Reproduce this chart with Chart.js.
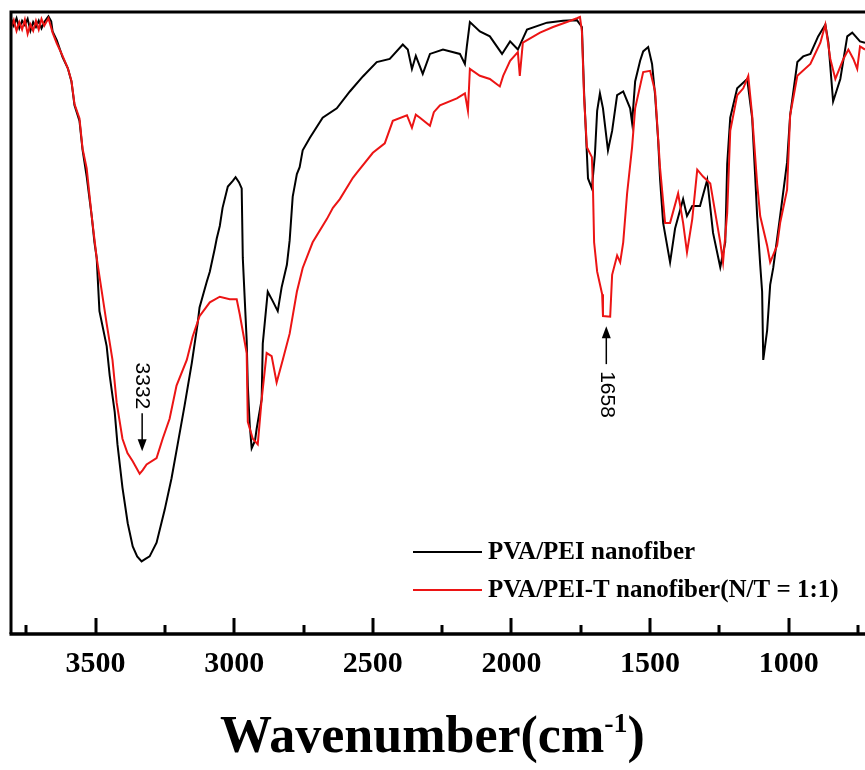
<!DOCTYPE html>
<html>
<head>
<meta charset="utf-8">
<script src="https://cdn.jsdelivr.net/npm/chart.js@4.4.1/dist/chart.umd.min.js"></script>
<style>
  html, body { margin: 0; padding: 0; background: #fff; }
</style>
</head>
<body>
<canvas id="ftir" width="865" height="770"></canvas>
<script>
// FTIR spectra, wavenumber (cm-1) vs transmittance (a.u., 0-100)
const pvaPeiWn = [
  3805, 3795, 3785, 3775, 3765, 3755, 3745, 3735, 3725, 3715,
  3705, 3695, 3685, 3670, 3660, 3655, 3640, 3619, 3600, 3587,
  3576, 3558, 3547, 3532, 3514, 3504, 3496, 3486, 3460, 3449,
  3431, 3421, 3403, 3384, 3366, 3350, 3334, 3320, 3305, 3280,
  3251, 3226, 3204, 3179, 3153, 3132, 3125, 3099, 3088, 3070,
  3063, 3052, 3042, 3023, 3005, 2995, 2983, 2973, 2969, 2955,
  2951, 2944, 2937, 2925, 2919, 2901, 2897, 2879, 2861, 2843,
  2829, 2810, 2800, 2789, 2774, 2764, 2753, 2727, 2681, 2630,
  2583, 2536, 2486, 2439, 2392, 2374, 2359, 2345, 2320, 2294,
  2247, 2186, 2168, 2161, 2150, 2114, 2078, 2034, 2005, 1977,
  1944, 1872, 1814, 1764, 1746, 1738, 1728, 1724, 1710, 1699,
  1691, 1681, 1670, 1652, 1637, 1619, 1597, 1572, 1565, 1554,
  1536, 1525, 1507, 1493, 1482, 1471, 1464, 1453, 1428, 1410,
  1381, 1367, 1348, 1320, 1294, 1273, 1247, 1229, 1222, 1211,
  1186, 1150, 1132, 1121, 1114, 1103, 1096, 1092, 1078, 1067,
  1056, 1031, 1006, 995, 969, 948, 922, 894, 868, 857,
  840, 814, 789, 771, 743, 725
];
const pvaPeiT = [
  98.9, 97.8, 99.0, 97.4, 98.6, 97.9, 98.9, 97.0, 98.4, 97.6,
  98.6, 97.4, 98.4, 99.3, 98.5, 96.9, 95.5, 92.8, 91.0, 88.9,
  85.1, 82.6, 78.0, 73.7, 67.4, 63.2, 60.7, 52.2, 46.6, 41.9,
  36.1, 30.9, 24.0, 18.3, 14.6, 13.0, 12.2, 12.6, 13.0, 15.2,
  20.4, 25.5, 30.9, 37.1, 43.9, 50.2, 52.8, 56.9, 58.5, 62.2,
  63.8, 65.8, 68.7, 72.1, 73.0, 73.6, 72.8, 71.8, 60.7, 47.5,
  40.3, 34.0, 30.3, 31.5, 33.4, 38.1, 47.0, 55.3, 53.8, 52.2,
  56.0, 59.6, 63.5, 70.5, 74.1, 75.2, 77.9, 79.9, 83.1, 84.6,
  87.3, 89.7, 92.0, 92.5, 94.8, 94.0, 90.9, 93.0, 90.1, 93.3,
  94.0, 93.3, 91.7, 94.5, 98.4, 96.9, 96.1, 93.3, 95.3, 94.0,
  97.2, 98.3, 98.6, 98.7, 97.6, 87.0, 77.3, 73.4, 71.8, 77.3,
  84.2, 87.0, 84.6, 77.9, 81.0, 86.7, 87.3, 84.6, 82.3, 88.9,
  92.2, 93.7, 94.4, 91.7, 86.7, 79.5, 73.2, 66.3, 60.0, 65.4,
  70.1, 67.4, 69.0, 69.0, 73.2, 64.7, 59.2, 63.2, 75.7, 83.1,
  87.8, 89.3, 83.1, 73.7, 67.4, 59.6, 55.3, 44.4, 49.1, 56.4,
  59.1, 67.4, 76.0, 83.5, 92.0, 92.9, 93.3, 96.1, 98.0, 95.1,
  85.7, 89.3, 96.1, 96.7, 95.3, 95.1
];
const pvaPeiTWn = [
  3805, 3795, 3785, 3775, 3765, 3755, 3745, 3735, 3725, 3715,
  3705, 3695, 3685, 3670, 3660, 3655, 3640, 3619, 3600, 3587,
  3576, 3558, 3547, 3532, 3514, 3496, 3460, 3439, 3424, 3403,
  3385, 3366, 3341, 3330, 3316, 3280, 3258, 3233, 3208, 3171,
  3150, 3125, 3088, 3052, 3016, 2991, 2980, 2955, 2951, 2933,
  2915, 2901, 2883, 2865, 2847, 2825, 2800, 2774, 2753, 2717,
  2666, 2644, 2619, 2572, 2558, 2500, 2457, 2428, 2377, 2359,
  2345, 2330, 2294, 2280, 2258, 2197, 2168, 2157, 2150, 2114,
  2078, 2042, 2030, 2005, 1977, 1970, 1959, 1897, 1850, 1800,
  1764, 1753, 1746, 1738, 1728, 1710, 1706, 1702, 1691, 1673,
  1670, 1644, 1637, 1619, 1608, 1597, 1583, 1565, 1554, 1525,
  1500, 1482, 1464, 1446, 1428, 1399, 1381, 1367, 1348, 1330,
  1309, 1283, 1265, 1247, 1237, 1222, 1211, 1186, 1164, 1146,
  1132, 1114, 1103, 1078, 1067, 1042, 1031, 1006, 995, 969,
  922, 886, 868, 850, 832, 803, 785, 767, 753, 743,
  725
];
const pvaPeiTT = [
  97.5, 98.7, 97.0, 98.4, 97.2, 98.8, 96.5, 98.0, 97.0, 98.6,
  97.2, 98.9, 97.8, 99.0, 97.5, 96.7, 95.0, 93.0, 91.0, 89.0,
  85.3, 83.0, 78.2, 75.0, 67.4, 60.7, 50.2, 44.4, 37.6, 31.8,
  29.5, 28.2, 26.2, 26.8, 27.7, 28.7, 31.8, 35.0, 40.3, 44.4,
  48.1, 51.4, 53.6, 54.5, 54.1, 54.1, 51.7, 45.5, 34.5, 31.8,
  30.9, 38.1, 45.5, 45.0, 40.8, 44.4, 48.6, 55.3, 59.1, 63.2,
  66.9, 68.7, 70.1, 73.5, 74.3, 77.5, 79.0, 82.6, 83.5, 81.5,
  83.6, 83.1, 81.8, 84.0, 85.1, 86.2, 87.0, 84.2, 90.9, 89.8,
  89.3, 88.1, 89.8, 92.2, 93.6, 89.8, 95.1, 96.7, 97.6, 98.4,
  99.0, 99.2, 96.9, 86.2, 78.4, 76.8, 71.6, 63.2, 58.5, 54.9,
  51.4, 51.3, 58.0, 61.1, 60.0, 63.2, 71.0, 78.4, 84.6, 90.4,
  90.6, 87.3, 75.0, 66.3, 66.3, 71.0, 66.3, 61.6, 66.9, 74.8,
  73.7, 72.6, 67.9, 63.2, 60.0, 67.9, 81.0, 86.7, 87.8, 89.8,
  83.5, 72.6, 67.4, 62.7, 60.0, 62.7, 66.3, 71.6, 83.5, 89.8,
  91.7, 95.1, 98.0, 92.5, 89.3, 92.5, 94.0, 92.5, 90.9, 94.5,
  94.0
];

const majorTicks = [3500, 3000, 2500, 2000, 1500, 1000];
const minorTicks = [3750, 3250, 2750, 2250, 1750, 1250, 750];
const seriesLabels = ['PVA/PEI nanofiber', 'PVA/PEI-T nanofiber(N/T = 1:1)'];
// marked peaks: wavenumber, transmittance at the arrow tip, arrow direction
const peakWn = [3332, 1658];
const peakTip = [29.8, 49.8];
const peakDir = ['down', 'up'];

const toXY = (xs, ys) => xs.map((v, i) => ({ x: v, y: ys[i] }));

const serif = '"Liberation Serif", "Times New Roman", serif';

// frame, inward ticks, peak arrows, legend and axis title
const decor = {
  id: 'decor',
  afterDraw(chart) {
    const { ctx, chartArea: a, scales: { x, y } } = chart;
    ctx.save();
    ctx.strokeStyle = '#000';
    ctx.fillStyle = '#000';
    ctx.lineCap = 'butt';

    // left + top border
    ctx.lineWidth = 3;
    ctx.beginPath();
    ctx.moveTo(a.left, a.bottom);
    ctx.lineTo(a.left, a.top);
    ctx.lineTo(chart.width, a.top);
    ctx.stroke();
    // bottom axis
    ctx.lineWidth = 3.5;
    ctx.beginPath();
    ctx.moveTo(a.left - 1.5, a.bottom);
    ctx.lineTo(chart.width, a.bottom);
    ctx.stroke();

    // ticks pointing inward
    ctx.lineWidth = 3;
    const tick = (v, len) => {
      const px = Math.round(x.getPixelForValue(v));
      ctx.beginPath();
      ctx.moveTo(px, a.bottom);
      ctx.lineTo(px, a.bottom - len);
      ctx.stroke();
    };
    majorTicks.forEach(v => tick(v, 16));
    minorTicks.forEach(v => tick(v, 9));

    // peak arrows with rotated labels
    ctx.font = '21px "Liberation Sans", Arial, sans-serif';
    peakWn.forEach((wn, i) => {
      const px = x.getPixelForValue(wn);
      const tip = y.getPixelForValue(peakTip[i]);
      const s = peakDir[i] === 'down' ? -1 : 1;   // direction from tip to tail
      ctx.lineWidth = 1.5;
      ctx.beginPath();
      ctx.moveTo(px, tip + s * 10);
      ctx.lineTo(px, tip + s * 38);
      ctx.stroke();
      ctx.beginPath();
      ctx.moveTo(px, tip);
      ctx.lineTo(px - 4.5, tip + s * 12);
      ctx.lineTo(px + 4.5, tip + s * 12);
      ctx.closePath();
      ctx.fill();
      const label = String(wn);
      const w = ctx.measureText(label).width;
      const start = s < 0 ? tip - 42 - w : tip + 45;
      ctx.save();
      ctx.translate(px, start);
      ctx.rotate(Math.PI / 2);
      ctx.textAlign = 'left';
      ctx.textBaseline = 'middle';
      ctx.fillText(label, 0, 0);
      ctx.restore();
    });

    // legend
    ctx.font = 'bold 25px ' + serif;
    ctx.textAlign = 'left';
    ctx.textBaseline = 'middle';
    chart.data.datasets.forEach((ds, i) => {
      const ly = 552 + i * 38;
      ctx.strokeStyle = ds.borderColor;
      ctx.lineWidth = 2;
      ctx.beginPath();
      ctx.moveTo(413, ly);
      ctx.lineTo(482, ly);
      ctx.stroke();
      ctx.fillStyle = '#000';
      ctx.fillText(seriesLabels[i], 488, ly + 1);
    });

    // axis title with superscript
    const main = 'Wavenumber(cm';
    const sup = '-1';
    const close = ')';
    ctx.font = 'bold 52px ' + serif;
    const w1 = ctx.measureText(main).width;
    const w3 = ctx.measureText(close).width;
    ctx.font = 'bold 28px ' + serif;
    const w2 = ctx.measureText(sup).width;
    const total = w1 + w2 + w3;
    let tx = chart.width / 2 - total / 2;
    const base = 752;
    ctx.textBaseline = 'alphabetic';
    ctx.font = 'bold 52px ' + serif;
    ctx.fillText(main, tx, base);
    tx += w1;
    ctx.font = 'bold 28px ' + serif;
    ctx.fillText(sup, tx, base - 20);
    tx += w2;
    ctx.font = 'bold 52px ' + serif;
    ctx.fillText(close, tx, base);
    ctx.restore();
  }
};

new Chart(document.getElementById('ftir'), {
  type: 'line',
  data: {
    datasets: [
      {
        label: seriesLabels[0],
        data: toXY(pvaPeiWn, pvaPeiT),
        borderColor: '#000000',
        borderWidth: 2,
        order: 1
      },
      {
        label: seriesLabels[1],
        data: toXY(pvaPeiTWn, pvaPeiTT),
        borderColor: 'rgb(236,20,20)',
        borderWidth: 2,
        order: 0
      }
    ]
  },
  options: {
    responsive: false,
    animation: false,
    devicePixelRatio: 1,
    elements: {
      point: { radius: 0 },
      line: { tension: 0 }
    },
    layout: { padding: { left: 11, top: 12, right: 0, bottom: 76 } },
    plugins: {
      legend: { display: false },
      tooltip: { enabled: false }
    },
    scales: {
      x: {
        type: 'linear',
        reverse: true,
        min: 725,
        max: 3805,
        afterBuildTicks: scale => {
          scale.ticks = majorTicks.map(v => ({ value: v }));
        },
        grid: { display: false, drawTicks: false },
        border: { display: false },
        ticks: {
          padding: 12,
          color: '#000',
          maxRotation: 0,
          font: { family: serif, size: 30, weight: 'bold' },
          callback: v => String(v)
        }
      },
      y: {
        display: false,
        min: 0.6,
        max: 100
      }
    }
  },
  plugins: [decor]
});
</script>
</body>
</html>
